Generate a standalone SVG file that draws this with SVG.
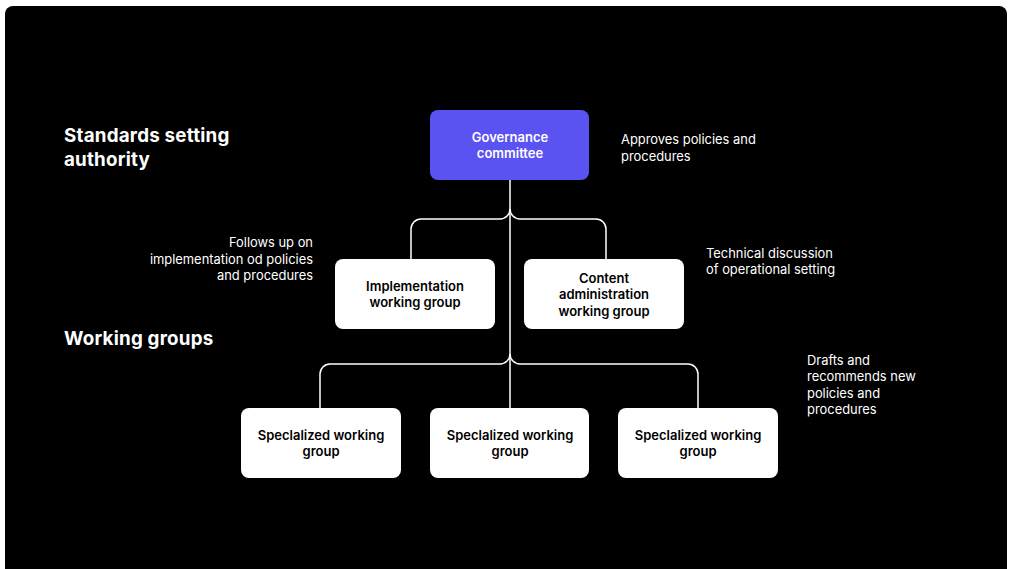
<svg xmlns="http://www.w3.org/2000/svg" width="1011" height="569" viewBox="0 0 1011 569">
<style>
.bg{fill:#000}
.box{fill:#fff}
.gov{fill:#5a53f2}
.lbl{font-family:Inter,"Liberation Sans",sans-serif;font-weight:600;font-size:13px;text-anchor:middle;fill:#000}
.lblw{fill:#fff}
.note{font-family:Inter,"Liberation Sans",sans-serif;font-size:12.9px;fill:#fff}
.head{font-family:Inter,"Liberation Sans",sans-serif;font-weight:700;font-size:18.8px;fill:#fff;letter-spacing:0.2px}
.conn{fill:none;stroke:#fff;stroke-width:1.5}
</style>
<rect x="0" y="0" width="1011" height="569" fill="#fff"/>
<rect class="bg" x="5" y="6" width="1002" height="580" rx="8"/>
<g id="headings">
<text class="head" x="64" y="142">Standards setting</text>
<text class="head" x="64" y="166">authority</text>
<text class="head" x="64" y="345">Working groups</text>
</g>
<g id="connectors">
<path class="conn" d="M510,180 L510,408"/>
<path class="conn" d="M510,209 A10,10 0 0 1 500,219 L421,219 A10,10 0 0 0 411,229 L411,259"/>
<path class="conn" d="M510,209 A10,10 0 0 0 520,219 L596,219 A10,10 0 0 1 606,229 L606,259"/>
<path class="conn" d="M510,354 A10,10 0 0 1 500,364 L330,364 A10,10 0 0 0 320,374 L320,408"/>
<path class="conn" d="M510,354 A10,10 0 0 0 520,364 L688,364 A10,10 0 0 1 698,374 L698,408"/>
</g>
<g id="governance">
<rect class="gov" x="430" y="110" width="159" height="70" rx="8"/>
<text class="lbl lblw" x="510" y="142">Governance</text>
<text class="lbl lblw" x="510" y="158">committee</text>
</g>
<g id="implementation">
<rect class="box" x="335" y="259" width="160" height="70" rx="8"/>
<text class="lbl" x="415" y="291">Implementation</text>
<text class="lbl" x="415" y="307">working group</text>
</g>
<g id="content">
<rect class="box" x="524" y="259" width="160" height="70" rx="8"/>
<text class="lbl" x="604" y="283">Content</text>
<text class="lbl" x="604" y="299">administration</text>
<text class="lbl" x="604" y="316">working group</text>
</g>
<g id="spec1">
<rect class="box" x="241" y="408" width="160" height="70" rx="8"/>
<text class="lbl" x="321" y="440">Speclalized working</text>
<text class="lbl" x="321" y="456">group</text>
</g>
<g id="spec2">
<rect class="box" x="430" y="408" width="159" height="70" rx="8"/>
<text class="lbl" x="510" y="440">Speclalized working</text>
<text class="lbl" x="510" y="456">group</text>
</g>
<g id="spec3">
<rect class="box" x="618" y="408" width="160" height="70" rx="8"/>
<text class="lbl" x="698" y="440">Speclalized working</text>
<text class="lbl" x="698" y="456">group</text>
</g>
<g id="notes">
<text class="note" x="621" y="144">Approves policies and</text>
<text class="note" x="621" y="161">procedures</text>
<text class="note" x="313" y="247" text-anchor="end">Follows up on</text>
<text class="note" x="313" y="264" text-anchor="end">implementation od policies</text>
<text class="note" x="313" y="280" text-anchor="end">and procedures</text>
<text class="note" x="706" y="258">Technical discussion</text>
<text class="note" x="706" y="274">of operational setting</text>
<text class="note" x="807" y="365">Drafts and</text>
<text class="note" x="807" y="381">recommends new</text>
<text class="note" x="807" y="398">policies and</text>
<text class="note" x="807" y="414">procedures</text>
</g>
</svg>
